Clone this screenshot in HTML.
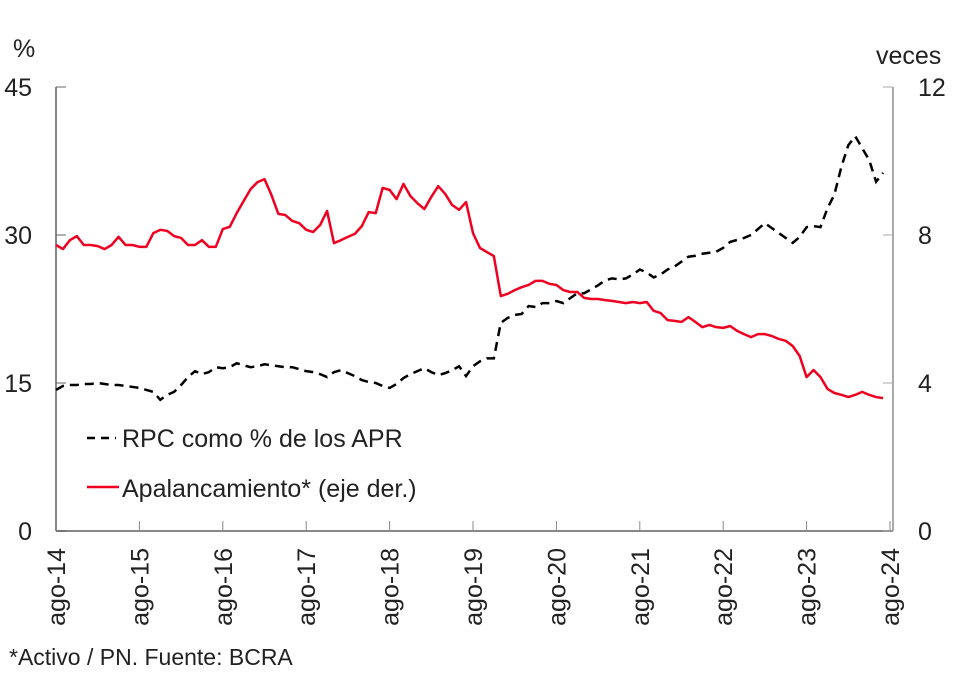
<!DOCTYPE html>
<html><head><meta charset="utf-8"><style>
body{margin:0;background:#fff;font-family:"Liberation Sans",sans-serif}
</style></head><body>
<svg id="c" width="960" height="681" style="display:block"></svg>
<script>
const rpc=[14.3,14.7,14.8,14.8,14.9,14.9,15.0,14.9,14.8,14.8,14.7,14.6,14.5,14.3,14.1,13.3,13.8,14.1,14.8,15.6,16.2,15.9,16.1,16.6,16.5,16.6,17.0,16.8,16.6,16.7,16.9,16.8,16.7,16.6,16.6,16.4,16.2,16.1,15.9,15.6,16.1,16.3,16.0,15.7,15.3,15.1,15.0,14.7,14.5,14.9,15.5,15.9,16.2,16.5,16.1,15.8,16.0,16.3,16.7,15.7,16.7,17.2,17.5,17.5,21.1,21.6,21.9,22.0,22.8,22.7,23.1,23.1,23.3,23.1,23.6,24.1,24.1,24.5,24.9,25.4,25.6,25.5,25.6,26.0,26.5,26.2,25.7,26.0,26.5,26.8,27.3,27.8,27.9,28.1,28.2,28.3,28.7,29.3,29.5,29.7,30.0,30.6,31.2,30.7,30.2,29.7,29.2,29.8,30.8,30.9,30.8,32.7,34.1,36.9,39.1,40.0,38.8,37.6,35.4,36.3];
const apal=[7.73,7.62,7.86,7.97,7.73,7.73,7.70,7.62,7.73,7.95,7.73,7.73,7.68,7.68,8.05,8.14,8.11,7.97,7.92,7.73,7.73,7.86,7.68,7.68,8.16,8.22,8.59,8.92,9.24,9.43,9.51,9.08,8.57,8.54,8.38,8.32,8.14,8.08,8.27,8.65,7.78,7.86,7.95,8.03,8.24,8.62,8.59,9.27,9.22,8.97,9.38,9.05,8.86,8.70,9.03,9.32,9.11,8.81,8.68,8.89,8.05,7.65,7.54,7.43,6.35,6.41,6.51,6.59,6.65,6.76,6.76,6.68,6.65,6.51,6.46,6.46,6.30,6.27,6.27,6.24,6.22,6.19,6.16,6.19,6.16,6.19,5.95,5.89,5.70,5.68,5.65,5.78,5.65,5.51,5.57,5.51,5.49,5.54,5.41,5.32,5.24,5.32,5.32,5.27,5.19,5.14,5.00,4.73,4.16,4.35,4.16,3.84,3.73,3.68,3.62,3.68,3.76,3.68,3.62,3.59];
const xLabels=["ago-14","ago-15","ago-16","ago-17","ago-18","ago-19","ago-20","ago-21","ago-22","ago-23","ago-24"];
const leftTicks=[0,15,30,45];
const rightTicks=[0,4,8,12];
const svg=document.getElementById('c');
const NS="http://www.w3.org/2000/svg";
const X0=56,X1=890,Y0=531,Y1=87;
const xs=i=>X0+i*(X1-X0)/120;
const yl=v=>Y0-(v/45)*(Y0-Y1);
const yr=v=>Y0-(v/12)*(Y0-Y1);
function mk(t,a,txt){const e=document.createElementNS(NS,t);for(const k in a)e.setAttribute(k,a[k]);if(txt!==undefined)e.textContent=txt;svg.appendChild(e);return e;}
let e;
e=mk('line',{x1:56,y1:87,x2:56,y2:531,stroke:'#888','stroke-width':2});


e=mk('line',{x1:893,y1:87,x2:893,y2:531,stroke:'#aaa','stroke-width':2});


e=mk('line',{x1:56,y1:531,x2:893,y2:531,stroke:'#888','stroke-width':2});


leftTicks.forEach(v=>{
 e=mk('line',{x1:56,y1:yl(v),x2:66,y2:yl(v),stroke:'#666','stroke-width':1});
 
 
 e=mk('text',{x:32,y:yl(v)+9,'font-size':25,'text-anchor':'end',fill:'#222'},v);
 
 
});
rightTicks.forEach(v=>{
 e=mk('line',{x1:883,y1:yr(v),x2:893,y2:yr(v),stroke:'#aaa','stroke-width':1});
 
 
 e=mk('text',{x:918,y:yr(v)+9,'font-size':25,'text-anchor':'start',fill:'#222'},v);
 
 
});
xLabels.forEach((l,k)=>{
 const x=xs(k*12);
 e=mk('line',{x1:x,y1:521,x2:x,y2:531,stroke:'#888','stroke-width':1});
 
 
 e=mk('text',{x:0,y:0,'font-size':25,'text-anchor':'end',fill:'#222',transform:`translate(${x+9},548) rotate(-90)`},l);
 
 
});
e=mk('text',{x:13,y:57,'font-size':25,fill:'#222'},'%');


e=mk('text',{x:876,y:64,'font-size':25,fill:'#222'},'veces');


e=mk('polyline',{points:apal.map((v,i)=>xs(i)+','+yr(v)).join(' '),fill:'none',stroke:'#f00020','stroke-width':2.5,'stroke-linejoin':'round'});


e=mk('polyline',{points:rpc.map((v,i)=>xs(i)+','+yl(v)).join(' '),fill:'none',stroke:'#000','stroke-width':2.5,'stroke-dasharray':'9,6'});


e=mk('line',{x1:87,y1:438,x2:116,y2:438,stroke:'#000','stroke-width':2.5,'stroke-dasharray':'8,6'});


e=mk('text',{x:122,y:447,'font-size':25,fill:'#222'},'RPC como % de los APR');


e=mk('line',{x1:87,y1:487,x2:119,y2:487,stroke:'#f00020','stroke-width':2.5});


e=mk('text',{x:122,y:497,'font-size':25,fill:'#222'},'Apalancamiento* (eje der.)');


e=mk('text',{x:9,y:665,'font-size':23,fill:'#222'},'*Activo / PN. Fuente: BCRA');


</script>
</body></html>
